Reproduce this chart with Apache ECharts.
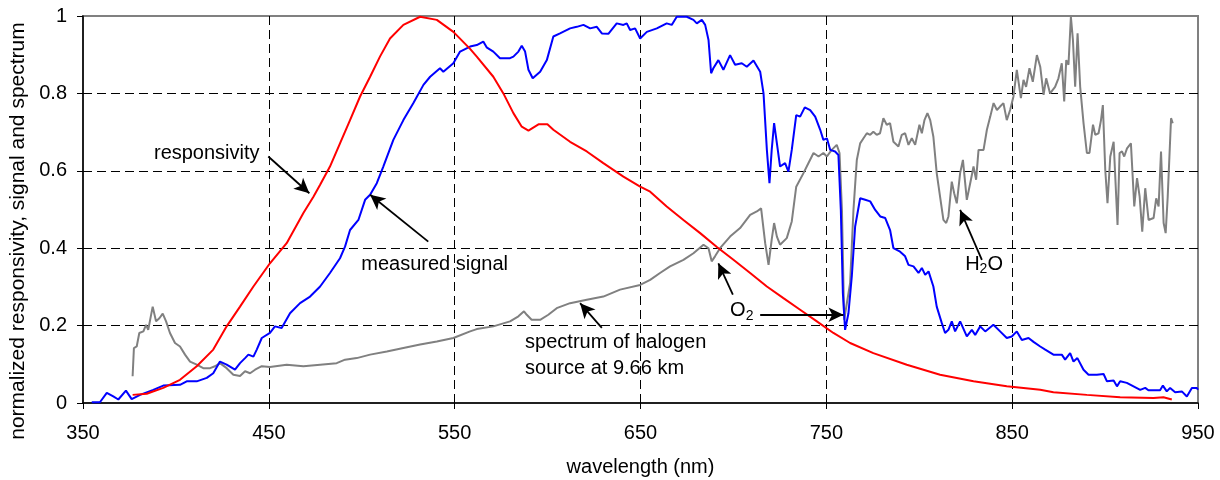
<!DOCTYPE html>
<html>
<head>
<meta charset="utf-8">
<title>responsivity, signal and spectrum</title>
<script src="https://cdn.jsdelivr.net/npm/echarts@6.0.0/dist/echarts.min.js"></script>
<style>
	html, body { margin: 0; padding: 0; background: #fff; }
	#chart { width: 1220px; height: 480px; }
</style>
</head>
<body>
<div id="chart"></div>
<script type="text/javascript">
	// responsivity (red)
	var respWl = [376.7, 384.3, 393.2, 402.2, 411.2, 420.1, 427.3, 434.5, 441.7, 450.6, 459.6, 468.6, 474.0, 477.6, 482.9, 488.3,
		493.7, 499.1, 504.5, 509.8, 515.2, 522.4, 531.4, 540.4, 549.3, 558.3, 561.9, 570.8, 576.2, 581.6, 586.1, 589.7, 595.1,
		599.9, 603.1, 612.1, 621.1, 630.0, 640.8, 649.8, 655.2, 664.1, 673.1, 682.1, 691.1, 700.0, 709.0, 718.0, 726.9, 735.9,
		744.9, 753.8, 762.8, 775.3, 793.3, 811.2, 829.2, 847.1, 865.1, 872.2, 890.2, 908.1, 926.1, 931.4, 935.9];
	var respVal = [0.021, 0.024, 0.039, 0.060, 0.095, 0.138, 0.198, 0.249, 0.301, 0.361, 0.413, 0.491, 0.533, 0.564, 0.611, 0.671,
		0.731, 0.792, 0.843, 0.895, 0.942, 0.977, 0.998, 0.990, 0.959, 0.915, 0.895, 0.843, 0.800, 0.749, 0.714, 0.704, 0.720,
		0.720, 0.706, 0.675, 0.650, 0.620, 0.585, 0.559, 0.546, 0.508, 0.473, 0.439, 0.403, 0.370, 0.336, 0.301, 0.271, 0.241,
		0.211, 0.181, 0.155, 0.129, 0.099, 0.073, 0.056, 0.043, 0.034, 0.028, 0.021, 0.015, 0.013, 0.015, 0.009];

	// measured signal (blue)
	var signalWl = [354.7, 359.1, 362.8, 366.3, 369.0, 373.1, 376.2, 380.7, 387.8, 393.2, 402.2, 405.8, 411.2, 416.6, 420.1, 423.7,
		427.3, 431.8, 434.5, 437.2, 439.0, 441.7, 443.5, 446.2, 450.6, 453.3, 456.9, 461.4, 466.8, 472.2, 477.6, 482.9, 488.3,
		491.0, 493.7, 498.2, 501.8, 504.5, 508.1, 511.6, 517.0, 522.4, 527.8, 533.2, 536.8, 542.1, 543.9, 549.3, 552.9, 558.3,
		561.9, 565.4, 567.2, 570.8, 574.4, 579.8, 581.6, 584.3, 586.1, 587.9, 589.7, 592.0, 596.0, 599.6, 603.1, 606.7, 612.1,
		615.7, 619.3, 622.9, 626.5, 629.2, 632.7, 637.2, 640.8, 642.6, 644.4, 647.1, 649.8, 653.4, 658.8, 664.1, 666.8, 669.5,
		674.9, 678.5, 680.3, 683.0, 684.8, 686.6, 688.0, 689.2, 691.9, 694.6, 698.2, 700.9, 704.5, 707.2, 710.8, 714.4, 716.2,
		718.0, 719.4, 720.6, 721.9, 723.4, 725.1, 727.8, 729.6, 731.4, 733.8, 735.9, 738.4, 741.3, 744.0, 746.7, 748.4, 750.3,
		752.1, 754.7, 756.5, 757.8, 758.9, 760.1, 761.9, 763.7, 765.5, 768.2, 770.9, 773.6, 776.3, 779.0, 781.7, 784.3, 786.1,
		789.7, 792.4, 794.2, 796.9, 799.6, 801.4, 803.2, 805.0, 807.6, 809.4, 812.1, 813.9, 815.7, 817.5, 819.3, 822.0, 825.6,
		828.3, 830.1, 832.8, 835.5, 839.9, 843.5, 847.1, 849.8, 852.5, 855.2, 858.8, 861.5, 865.1, 867.8, 872.2, 876.7, 878.5,
		881.2, 883.0, 885.1, 888.4, 891.1, 895.6, 899.2, 901.0, 904.6, 906.4, 908.1, 911.7, 915.3, 918.9, 921.6, 923.3, 929.6,
		931.1, 933.2, 935.0, 937.7, 941.3, 944.0, 946.7, 949.4, 950.0];
	var signalVal = [0.002, 0.002, 0.026, 0.017, 0.009, 0.032, 0.010, 0.021, 0.034, 0.045, 0.047, 0.056, 0.056, 0.065, 0.077, 0.107,
		0.099, 0.086, 0.103, 0.116, 0.125, 0.120, 0.138, 0.168, 0.181, 0.198, 0.194, 0.232, 0.258, 0.275, 0.301, 0.336, 0.374,
		0.404, 0.447, 0.473, 0.525, 0.538, 0.568, 0.611, 0.680, 0.731, 0.775, 0.822, 0.843, 0.865, 0.856, 0.878, 0.908, 0.921,
		0.925, 0.934, 0.919, 0.908, 0.891, 0.891, 0.895, 0.908, 0.923, 0.908, 0.861, 0.839, 0.856, 0.886, 0.947, 0.955, 0.968,
		0.972, 0.977, 0.968, 0.972, 0.955, 0.954, 0.981, 0.977, 0.981, 0.964, 0.968, 0.942, 0.959, 0.968, 0.981, 0.977, 0.998,
		0.998, 0.990, 0.981, 0.990, 0.977, 0.938, 0.852, 0.865, 0.886, 0.861, 0.899, 0.874, 0.878, 0.869, 0.885, 0.856, 0.800,
		0.654, 0.568, 0.654, 0.723, 0.671, 0.611, 0.620, 0.598, 0.654, 0.744, 0.740, 0.764, 0.757, 0.740, 0.706, 0.680, 0.684,
		0.654, 0.650, 0.641, 0.499, 0.284, 0.189, 0.232, 0.327, 0.456, 0.529, 0.525, 0.521, 0.499, 0.482, 0.478, 0.447, 0.400,
		0.391, 0.379, 0.357, 0.353, 0.336, 0.349, 0.331, 0.340, 0.301, 0.249, 0.207, 0.181, 0.189, 0.211, 0.185, 0.211, 0.172,
		0.189, 0.176, 0.198, 0.185, 0.202, 0.185, 0.168, 0.172, 0.185, 0.163, 0.168, 0.158, 0.146, 0.138, 0.125, 0.125, 0.112,
		0.129, 0.107, 0.116, 0.086, 0.073, 0.073, 0.075, 0.056, 0.058, 0.043, 0.056, 0.052, 0.043, 0.034, 0.039, 0.033, 0.033,
		0.045, 0.030, 0.039, 0.028, 0.030, 0.017, 0.039, 0.039, 0.034];

	// spectrum of halogen source (grey)
	var specWl = [376.7, 377.4, 378.9, 380.3, 382.5, 383.9, 385.1, 387.5, 389.3, 391.1, 392.9, 394.7, 396.8, 399.5, 402.2, 404.9,
		407.6, 411.2, 414.7, 418.4, 421.0, 423.7, 427.3, 430.9, 434.5, 437.2, 439.9, 442.6, 446.2, 450.6, 459.6, 468.6, 477.6,
		486.5, 491.0, 497.3, 504.5, 513.5, 522.4, 531.4, 540.4, 549.3, 558.3, 561.9, 570.8, 579.8, 584.3, 587.3, 588.8, 591.4,
		596.0, 600.4, 604.9, 612.1, 621.1, 630.0, 639.0, 649.8, 655.2, 660.5, 665.9, 673.1, 678.5, 683.9, 686.6, 688.3, 690.1,
		692.8, 698.2, 703.6, 709.0, 712.6, 714.9, 717.1, 718.9, 720.6, 721.9, 723.4, 725.1, 728.7, 731.4, 733.8, 737.7, 740.4,
		743.1, 745.8, 748.4, 750.3, 752.9, 755.6, 757.1, 758.4, 759.6, 762.8, 764.6, 766.4, 768.2, 770.0, 771.8, 773.6, 775.3,
		777.1, 778.9, 780.7, 782.5, 784.3, 786.1, 788.8, 790.6, 792.4, 794.2, 796.0, 797.8, 800.1, 801.4, 802.8, 804.4, 805.9,
		807.6, 809.4, 811.2, 813.0, 814.5, 815.7, 817.5, 818.8, 820.2, 822.0, 823.5, 825.6, 827.8, 829.2, 830.6, 831.9, 834.6,
		836.4, 838.2, 840.0, 841.8, 843.5, 845.3, 847.1, 848.9, 850.7, 852.5, 854.7, 856.1, 857.5, 859.3, 861.1, 863.3, 865.1,
		866.9, 868.3, 870.4, 873.1, 874.9, 876.7, 878.0, 879.1, 880.3, 881.6, 882.7, 883.9, 885.2, 886.6, 888.4, 890.2, 891.6,
		893.5, 894.7, 896.5, 897.8, 898.8, 900.1, 901.3, 902.8, 904.6, 906.7, 907.8, 909.1, 910.3, 911.8, 913.9, 915.7, 917.2,
		918.6, 920.0, 921.6, 923.4, 926.1, 927.5, 928.8, 930.1, 931.5, 932.6, 933.7, 935.5, 936.4];
	var specVal = [0.069, 0.142, 0.146, 0.181, 0.185, 0.202, 0.189, 0.249, 0.211, 0.219, 0.231, 0.211, 0.181, 0.155, 0.146, 0.125,
		0.107, 0.099, 0.090, 0.090, 0.095, 0.103, 0.090, 0.073, 0.070, 0.082, 0.077, 0.086, 0.095, 0.093, 0.099, 0.095, 0.099,
		0.103, 0.112, 0.116, 0.125, 0.133, 0.142, 0.151, 0.159, 0.168, 0.185, 0.191, 0.198, 0.211, 0.224, 0.237, 0.228, 0.215,
		0.215, 0.228, 0.245, 0.258, 0.267, 0.275, 0.293, 0.305, 0.318, 0.336, 0.353, 0.370, 0.387, 0.409, 0.400, 0.366, 0.379,
		0.400, 0.430, 0.452, 0.486, 0.495, 0.503, 0.413, 0.357, 0.422, 0.465, 0.430, 0.409, 0.426, 0.469, 0.559, 0.594, 0.620,
		0.646, 0.637, 0.646, 0.637, 0.654, 0.667, 0.646, 0.499, 0.215, 0.310, 0.499, 0.628, 0.671, 0.684, 0.697, 0.693, 0.701,
		0.693, 0.697, 0.736, 0.719, 0.723, 0.675, 0.663, 0.693, 0.697, 0.667, 0.684, 0.667, 0.719, 0.697, 0.731, 0.749, 0.731,
		0.688, 0.594, 0.533, 0.473, 0.465, 0.482, 0.572, 0.542, 0.516, 0.594, 0.628, 0.525, 0.577, 0.611, 0.577, 0.654, 0.654,
		0.706, 0.740, 0.775, 0.757, 0.766, 0.775, 0.731, 0.757, 0.792, 0.861, 0.788, 0.835, 0.817, 0.865, 0.830, 0.899, 0.869,
		0.796, 0.839, 0.800, 0.817, 0.839, 0.878, 0.779, 0.886, 0.874, 0.998, 0.938, 0.817, 0.955, 0.817, 0.723, 0.646, 0.646,
		0.719, 0.693, 0.697, 0.731, 0.770, 0.602, 0.516, 0.637, 0.675, 0.460, 0.646, 0.650, 0.637, 0.658, 0.671, 0.508, 0.581,
		0.533, 0.443, 0.555, 0.473, 0.478, 0.529, 0.508, 0.650, 0.465, 0.439, 0.533, 0.736, 0.723];

	var xTicks = [350, 450, 550, 650, 750, 850, 950];

	// annotations: arrow [fromX, fromY, toX, toY] and texts, in data units
	var noteArrows = [
		[449.7, 0.637, 471.8, 0.542],
		[535.8, 0.417, 504.5, 0.538],
		[629.2, 0.194, 617.5, 0.258],
		[699.7, 0.280, 691.9, 0.361],
		[714.4, 0.228, 759.2, 0.228],
		[833.7, 0.370, 822.0, 0.499]
	];
	var noteTexts = ['responsivity', 'measured signal', 'spectrum of halogen', 'source at 9.66 km', '{n|O}{s|2}', '{n|H}{s|2}{n|O}'];
	var noteX = [416.6, 539.2, 587.9, 587.9, 698.2, 824.7];
	var noteY = [0.646, 0.358, 0.156, 0.090, 0.238, 0.358];
	var noteAlign = ['center', 'center', 'left', 'left', 'left', 'left'];

	var font = '"Liberation Sans", Arial, sans-serif';

	function pairs(xs, ys) {
		var out = [];
		for (var i = 0; i < xs.length; i++) {
			out.push([xs[i], ys[i]]);
		}
		return out;
	}

	var arrowData = noteArrows.map(function (a) {
		return [{coord: [a[0], a[1]]}, {coord: [a[2], a[3]]}];
	});
	var textData = noteTexts.map(function (t, i) {
		return {
			coord: [noteX[i], noteY[i]],
			label: {formatter: t, align: noteAlign[i]}
		};
	});

	var chart = echarts.init(document.getElementById('chart'), null, {renderer: 'canvas'});
	var option = {
		animation: false,
		backgroundColor: '#fff',
		textStyle: {fontFamily: font},
		grid: {
			left: 83, right: 22, top: 16, bottom: 77,
			containLabel: false,
			outerBoundsMode: 'none',
			show: true,
			borderColor: '#808080',
			borderWidth: 2,
			backgroundColor: '#fff'
		},
		xAxis: {
			type: 'value',
			min: xTicks[0],
			max: xTicks[xTicks.length - 1],
			interval: 100,
			name: 'wavelength (nm)',
			nameLocation: 'middle',
			nameGap: 54,
			nameTextStyle: {fontSize: 20, color: '#000', fontFamily: font},
			axisLine: {show: true, onZero: false, lineStyle: {color: '#000', width: 1.5}},
			axisTick: {show: true, inside: false, length: 6, lineStyle: {color: '#000', width: 1}},
			axisLabel: {fontSize: 20, color: '#000', margin: 20, fontFamily: font},
			splitLine: {
				show: true, showMinLine: false, showMaxLine: false,
				lineStyle: {color: '#000', width: 1, type: [9, 5]}
			}
		},
		yAxis: {
			type: 'value',
			min: 0,
			max: 1,
			interval: 0.2,
			axisLine: {show: true, lineStyle: {color: '#000', width: 1.5}},
			axisTick: {show: true, inside: false, length: 6, lineStyle: {color: '#000', width: 1}},
			axisLabel: {fontSize: 20, color: '#000', margin: 16, fontFamily: font},
			splitLine: {
				show: true, showMinLine: false, showMaxLine: false,
				lineStyle: {color: '#000', width: 1, type: [9, 5]}
			}
		},
		graphic: [{
			type: 'text',
			x: 18.5,
			y: 231,
			rotation: Math.PI / 2,
			silent: true,
			style: {
				text: 'normalized responsivity, signal and spectrum',
				fontSize: 21,
				fontFamily: font,
				fill: '#000',
				align: 'center',
				verticalAlign: 'middle'
			}
		}],
		series: [
			{
				name: 'spectrum of halogen source',
				type: 'line',
				data: pairs(specWl, specVal),
				showSymbol: false,
				symbol: 'none',
				lineStyle: {color: '#808080', width: 2},
				itemStyle: {color: '#808080'},
				z: 2
			},
			{
				name: 'measured signal',
				type: 'line',
				data: pairs(signalWl, signalVal),
				showSymbol: false,
				symbol: 'none',
				lineStyle: {color: '#0000ff', width: 2},
				itemStyle: {color: '#0000ff'},
				z: 3
			},
			{
				name: 'responsivity',
				type: 'line',
				data: pairs(respWl, respVal),
				showSymbol: false,
				symbol: 'none',
				lineStyle: {color: '#ff0000', width: 2},
				itemStyle: {color: '#ff0000'},
				z: 4,
				markLine: {
					silent: true,
					animation: false,
					symbol: ['none', 'arrow'],
					symbolSize: [11, 15],
					label: {show: false},
					lineStyle: {color: '#000', width: 1.8, type: 'solid'},
					emphasis: {disabled: true},
					data: arrowData
				},
				markPoint: {
					silent: true,
					animation: false,
					symbol: 'circle',
					symbolSize: 1,
					itemStyle: {color: 'rgba(0,0,0,0)'},
					label: {
						show: true,
						position: 'inside',
						color: '#000',
						fontSize: 20,
						fontFamily: font,
						verticalAlign: 'middle',
						rich: {
							n: {fontSize: 20, fontFamily: font, color: '#000'},
							s: {fontSize: 14, fontFamily: font, color: '#000', padding: [10, 0, 0, 0]}
						}
					},
					data: textData
				}
			}
		]
	};
	chart.setOption(option);
</script>
</body>
</html>
